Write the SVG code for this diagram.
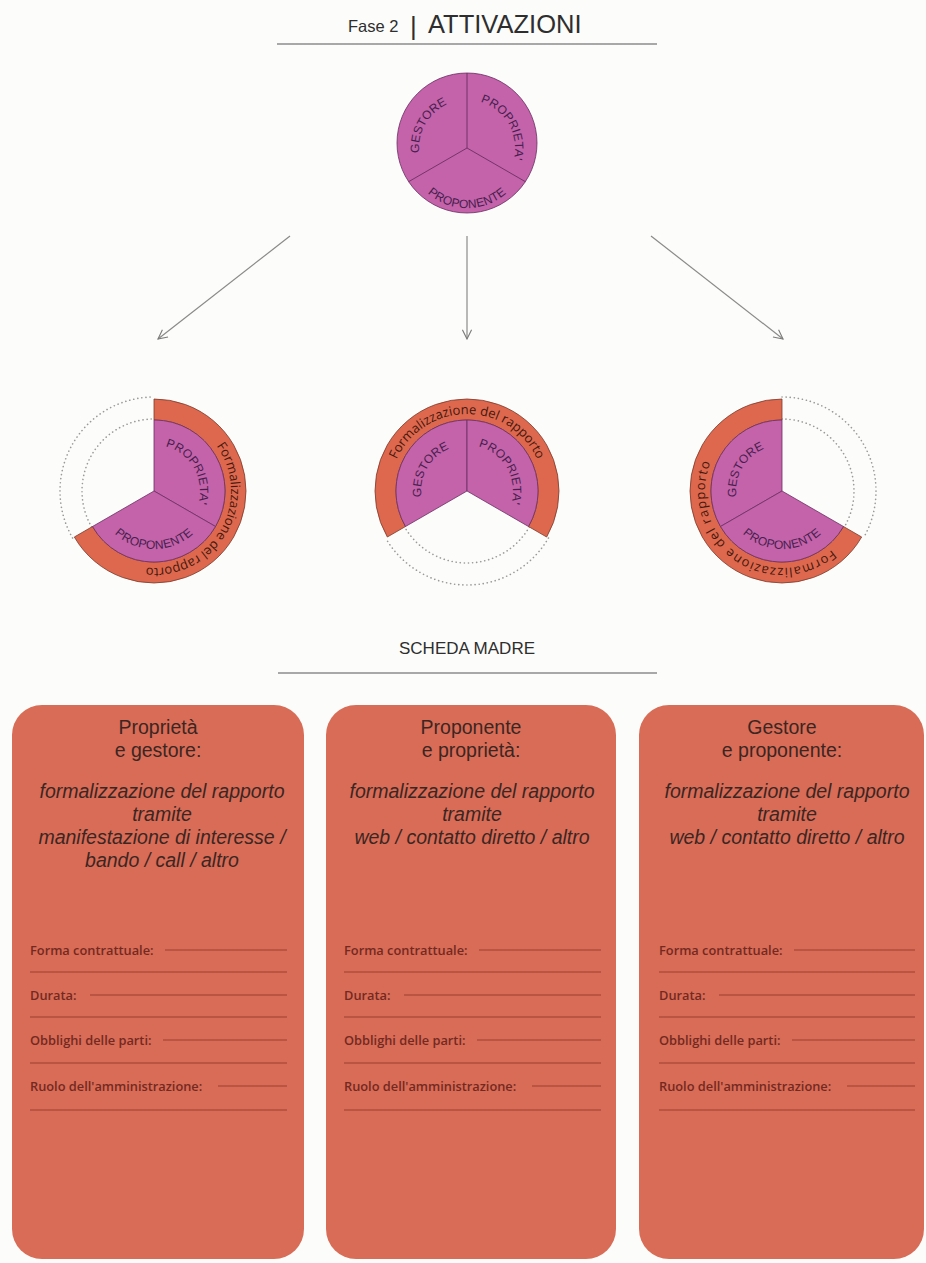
<svg xmlns="http://www.w3.org/2000/svg" width="926" height="1263" viewBox="0 0 926 1263">
<style>
.bg{fill:#fcfcfa}
.rule{stroke:#8c8c8c;stroke-width:1.3;fill:none}
.head{font-family:"Liberation Sans",Arial,sans-serif;fill:#2e2e2e}
.sec{fill:#c462aa;stroke:#6b2f63;stroke-width:0.8}
.ring{fill:#de684e;stroke:#7a3a2c;stroke-width:0.8}
.dot{fill:none;stroke:#9a9a9a;stroke-width:1.6;stroke-dasharray:0.1 4;stroke-linecap:round}
.lab{font-family:"Liberation Sans",Arial,sans-serif;font-size:12px;fill:#45204d;letter-spacing:0.2px}
.rt{font-family:"Open Sans","Liberation Sans",sans-serif;font-size:13px;fill:#45190f}
.card{fill:#d96c57}
.ct{font-family:"Liberation Sans",Arial,sans-serif;font-size:19.5px;fill:#3b2622;text-anchor:middle}
.it{font-style:italic}
.fl{font-family:"Open Sans","Liberation Sans",sans-serif;font-size:12.8px;font-weight:600;fill:#73291f}
.fline{stroke:#9e3f31;stroke-width:1.1;fill:none}
.conn{stroke:#8a8a8a;stroke-width:1.2;fill:none}
</style>
<defs>
<marker id="arr" viewBox="0 0 12 12" refX="11" refY="6" markerWidth="11" markerHeight="11" markerUnits="userSpaceOnUse" orient="auto">
<path d="M1,1 L11,6 L1,11" fill="none" stroke="#7a7a7a" stroke-width="1.2"/>
</marker>
<path id="tG" d="M425.4,172 A48,48 0 0 1 467,100"/>
<path id="tP" d="M467,100 A48,48 0 0 1 508.6,172"/>
<path id="tN" d="M415,178 A60,60 0 0 0 519,178"/>
<path id="lP" d="M154,445 A46,46 0 0 1 193.84,514"/>
<path id="lN" d="M103.77,520 A58,58 0 0 0 204.23,520"/>
<path id="lR" d="M154,414 A77,77 0 1 1 87.32,529.5"/>
<path id="mG" d="M427.16,514 A46,46 0 0 1 467,445"/>
<path id="mP" d="M467,445 A46,46 0 0 1 506.84,514"/>
<path id="mR" d="M400.32,529.5 A77,77 0 1 1 533.68,529.5"/>
<path id="rG" d="M742.16,514 A46,46 0 0 1 782,445"/>
<path id="rN" d="M731.77,520 A58,58 0 0 0 832.23,520"/>
<path id="rR" d="M848.68,529.5 A77,77 0 1 1 782,414"/>
</defs>
<rect class="bg" x="0" y="0" width="926" height="1263"/>

<g id="title">
<text class="head" x="348" y="32" font-size="16.5">Fase 2</text>
<text class="head" x="410" y="35" font-size="26" fill="#444">|</text>
<text class="head" x="428" y="33" font-size="25.5">ATTIVAZIONI</text>
<line class="rule" x1="277" y1="44" x2="657" y2="44"/>
</g>

<g id="top-circle">
<circle cx="467" cy="143" r="70" class="sec"/>
<path d="M467,148 L467,73 M467,148 L408.6,181.7 M467,148 L525.4,181.7" stroke="#6b2f63" stroke-width="0.9" fill="none"/>
<text class="lab"><textPath href="#tG" startOffset="50%" text-anchor="middle">GESTORE</textPath></text>
<text class="lab"><textPath href="#tP" startOffset="50%" text-anchor="middle">PROPRIETA'</textPath></text>
<text class="lab"><textPath href="#tN" startOffset="50%" text-anchor="middle">PROPONENTE</textPath></text>
</g>

<g id="connectors">
<path class="conn" d="M290,236 L158,339" marker-end="url(#arr)"/>
<path class="conn" d="M467,236 L467,339" marker-end="url(#arr)"/>
<path class="conn" d="M651,236 L783,339" marker-end="url(#arr)"/>
</g>

<g id="circle-left">
<path class="dot" d="M72.59,538 A94,94 0 0 1 154,397"/>
<path class="dot" d="M91.65,527 A72,72 0 0 1 154,419"/>
<path class="ring" d="M154,399 A92,92 0 1 1 74.33,537 L92.51,526.5 A71,71 0 1 0 154,420 Z"/>
<path class="sec" d="M154,491 L154,420 A71,71 0 0 1 215.49,526.5 Z"/>
<path class="sec" d="M154,491 L215.49,526.5 A71,71 0 0 1 92.51,526.5 Z"/>
<text class="lab"><textPath href="#lP" startOffset="50%" text-anchor="middle">PROPRIETA'</textPath></text>
<text class="lab"><textPath href="#lN" startOffset="50%" text-anchor="middle">PROPONENTE</textPath></text>
<text class="rt"><textPath href="#lR" startOffset="50%" text-anchor="middle">Formalizzazione del rapporto</textPath></text>
</g>

<g id="circle-middle">
<path class="dot" d="M548.41,538 A94,94 0 0 1 385.59,538"/>
<path class="dot" d="M529.35,527 A72,72 0 0 1 404.65,527"/>
<path class="ring" d="M387.33,537 A92,92 0 1 1 546.67,537 L528.49,526.5 A71,71 0 1 0 405.51,526.5 Z"/>
<path class="sec" d="M467,491 L405.51,526.5 A71,71 0 0 1 467,420 Z"/>
<path class="sec" d="M467,491 L467,420 A71,71 0 0 1 528.49,526.5 Z"/>
<text class="lab"><textPath href="#mG" startOffset="50%" text-anchor="middle">GESTORE</textPath></text>
<text class="lab"><textPath href="#mP" startOffset="50%" text-anchor="middle">PROPRIETA'</textPath></text>
<text class="rt"><textPath href="#mR" startOffset="50%" text-anchor="middle">Formalizzazione del rapporto</textPath></text>
</g>

<g id="circle-right">
<path class="dot" d="M782,397 A94,94 0 0 1 863.41,538"/>
<path class="dot" d="M782,419 A72,72 0 0 1 844.35,527"/>
<path class="ring" d="M861.67,537 A92,92 0 1 1 782,399 L782,420 A71,71 0 1 0 843.49,526.5 Z"/>
<path class="sec" d="M782,491 L720.51,526.5 A71,71 0 0 1 782,420 Z"/>
<path class="sec" d="M782,491 L843.49,526.5 A71,71 0 0 1 720.51,526.5 Z"/>
<text class="lab"><textPath href="#rG" startOffset="50%" text-anchor="middle">GESTORE</textPath></text>
<text class="lab"><textPath href="#rN" startOffset="50%" text-anchor="middle">PROPONENTE</textPath></text>
<text class="rt" letter-spacing="1"><textPath href="#rR" startOffset="40%" text-anchor="middle">Formalizzazione del rapporto</textPath></text>
</g>

<g id="scheda-madre">
<text class="head" x="467" y="654" font-size="17" text-anchor="middle">SCHEDA MADRE</text>
<line class="rule" x1="278" y1="673" x2="657" y2="673"/>
</g>

<g id="card-left">
<rect class="card" x="12" y="705" width="292" height="554" rx="30"/>
<text class="ct" x="158" y="734">Proprietà</text>
<text class="ct" x="158" y="757">e gestore:</text>
<text class="ct it" x="162" y="798">formalizzazione del rapporto</text>
<text class="ct it" x="162" y="821">tramite</text>
<text class="ct it" x="162" y="844">manifestazione di interesse /</text>
<text class="ct it" x="162" y="867">bando / call / altro</text>
<text class="fl" x="30" y="955">Forma contrattuale:</text>
<line class="fline" x1="165" y1="950" x2="287" y2="950"/>
<line class="fline" x1="30" y1="972" x2="287" y2="972"/>
<text class="fl" x="30" y="1000">Durata:</text>
<line class="fline" x1="90" y1="995" x2="287" y2="995"/>
<line class="fline" x1="30" y1="1017" x2="287" y2="1017"/>
<text class="fl" x="30" y="1045">Obblighi delle parti:</text>
<line class="fline" x1="163" y1="1040" x2="287" y2="1040"/>
<line class="fline" x1="30" y1="1063" x2="287" y2="1063"/>
<text class="fl" x="30" y="1091">Ruolo dell'amministrazione:</text>
<line class="fline" x1="218" y1="1086" x2="287" y2="1086"/>
<line class="fline" x1="30" y1="1110" x2="287" y2="1110"/>
</g>

<g id="card-middle">
<rect class="card" x="326" y="705" width="290" height="554" rx="30"/>
<text class="ct" x="471" y="734">Proponente</text>
<text class="ct" x="471" y="757">e proprietà:</text>
<text class="ct it" x="472" y="798">formalizzazione del rapporto</text>
<text class="ct it" x="472" y="821">tramite</text>
<text class="ct it" x="472" y="844">web / contatto diretto / altro</text>
<text class="fl" x="344" y="955">Forma contrattuale:</text>
<line class="fline" x1="479" y1="950" x2="601" y2="950"/>
<line class="fline" x1="344" y1="972" x2="601" y2="972"/>
<text class="fl" x="344" y="1000">Durata:</text>
<line class="fline" x1="404" y1="995" x2="601" y2="995"/>
<line class="fline" x1="344" y1="1017" x2="601" y2="1017"/>
<text class="fl" x="344" y="1045">Obblighi delle parti:</text>
<line class="fline" x1="477" y1="1040" x2="601" y2="1040"/>
<line class="fline" x1="344" y1="1063" x2="601" y2="1063"/>
<text class="fl" x="344" y="1091">Ruolo dell'amministrazione:</text>
<line class="fline" x1="532" y1="1086" x2="601" y2="1086"/>
<line class="fline" x1="344" y1="1110" x2="601" y2="1110"/>
</g>

<g id="card-right">
<rect class="card" x="639" y="705" width="285" height="554" rx="30"/>
<text class="ct" x="782" y="734">Gestore</text>
<text class="ct" x="782" y="757">e proponente:</text>
<text class="ct it" x="787" y="798">formalizzazione del rapporto</text>
<text class="ct it" x="787" y="821">tramite</text>
<text class="ct it" x="787" y="844"> web / contatto diretto / altro</text>
<text class="fl" x="659" y="955">Forma contrattuale:</text>
<line class="fline" x1="794" y1="950" x2="915" y2="950"/>
<line class="fline" x1="659" y1="972" x2="915" y2="972"/>
<text class="fl" x="659" y="1000">Durata:</text>
<line class="fline" x1="719" y1="995" x2="915" y2="995"/>
<line class="fline" x1="659" y1="1017" x2="915" y2="1017"/>
<text class="fl" x="659" y="1045">Obblighi delle parti:</text>
<line class="fline" x1="792" y1="1040" x2="915" y2="1040"/>
<line class="fline" x1="659" y1="1063" x2="915" y2="1063"/>
<text class="fl" x="659" y="1091">Ruolo dell'amministrazione:</text>
<line class="fline" x1="847" y1="1086" x2="915" y2="1086"/>
<line class="fline" x1="659" y1="1110" x2="915" y2="1110"/>
</g>
</svg>
